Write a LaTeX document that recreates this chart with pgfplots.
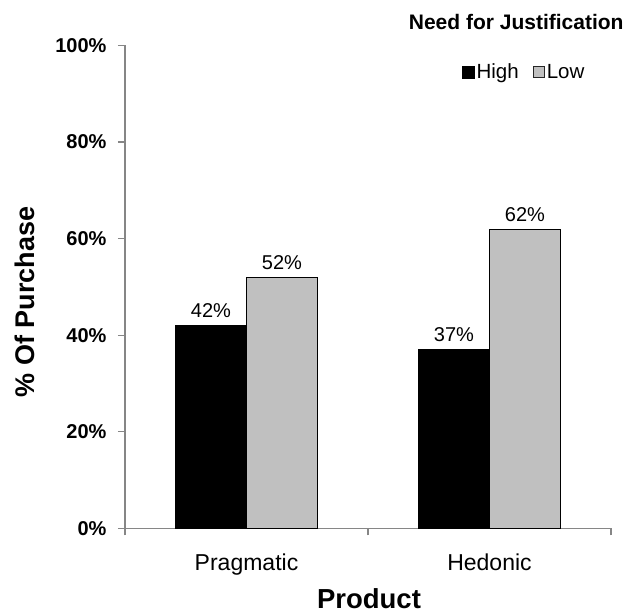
\documentclass[border=0pt]{standalone}
\usepackage{pgfplots}
\pgfplotsset{compat=1.18}
\usepackage{fontspec}
\setmainfont{Liberation Sans}
\definecolor{barlow}{HTML}{C0C0C0}
\definecolor{axisgray}{HTML}{868686}
\begin{document}
\begin{tikzpicture}
\useasboundingbox (0,0) rectangle (627pt,615pt);
\begin{axis}[
  at={(125pt,86.5pt)}, anchor=south west,
  scale only axis, width=486pt, height=483pt,
  clip=false,
  ybar=0pt, bar width=71pt,
  xmin=-0.5, xmax=1.5, ymin=0, ymax=100,
  axis lines=left,
  axis line style={-, draw=axisgray, line width=1.2pt},
  tick align=outside,
  major tick length=7pt,
  tick style={draw=axisgray, line width=1.2pt},
  xtick={-0.5,0.5,1.5}, xticklabels={},
  extra x ticks={0,1},
  extra x tick labels={Pragmatic,Hedonic},
  extra x tick style={major tick length=0pt, tick style={draw=none},
    xticklabel style={font=\fontsize{23}{27}\selectfont, yshift=-22pt}},
  ytick={0,20,40,60,80,100},
  yticklabels={0\%,20\%,40\%,60\%,80\%,100\%},
  yticklabel style={font=\bfseries\fontsize{20}{24}\selectfont, xshift=-8pt},
  xlabel={Product},
  ylabel={\% Of Purchase},
  xlabel style={font=\bfseries\fontsize{27.5}{32}\selectfont,
    at={(rel axis cs:0.502,-0.146)}, anchor=center},
  ylabel style={font=\bfseries\fontsize{27}{31}\selectfont,
    at={(rel axis cs:-0.206,0.469)}, anchor=center},
  /pgf/number format/assume math mode=true,
  nodes near coords={\pgfmathprintnumber{\pgfplotspointmeta}\%},
  nodes near coords style={font=\fontsize{20}{24}\selectfont, text=black, yshift=4pt},
  legend columns=2,
  legend style={at={(rel axis cs:0.821,0.945)}, anchor=center, draw=none,
    fill=none, font=\fontsize{20.5}{24}\selectfont,
    /tikz/every even column/.append style={column sep=12pt}},
]
\addplot[fill=black, draw=black, line width=1pt,
  legend image code/.code={\draw[fill=black,draw=black] (0pt,-6pt) rectangle (12pt,6pt);}]
  coordinates {(0,42) (1,37)};
\addplot[fill=barlow, draw=black, line width=1pt,
  legend image code/.code={\draw[fill=barlow,draw=black!85,line width=1.2pt] (0.6pt,-5.4pt) rectangle (11.4pt,5.4pt);}]
  coordinates {(0,52) (1,62)};
\legend{High,Low}
\node[font=\bfseries\fontsize{21}{25}\selectfont] at (rel axis cs:0.805,1.048) {Need for Justification};
\end{axis}
\end{tikzpicture}
\end{document}
